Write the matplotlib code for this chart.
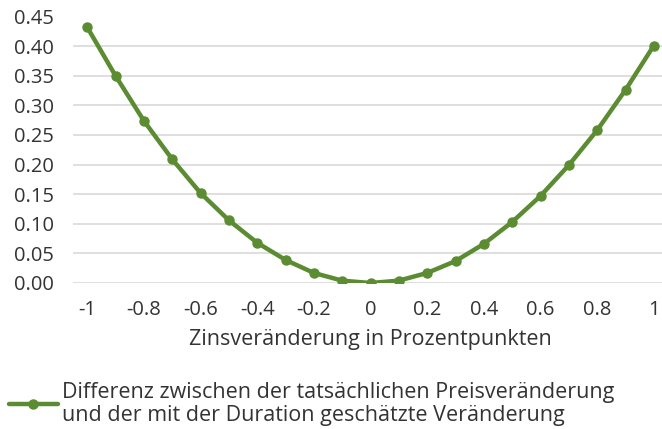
import matplotlib
matplotlib.use('Agg')
import matplotlib.pyplot as plt

plt.rcParams['font.family'] = ['Open Sans', 'DejaVu Sans']

# Zinsveränderung in Prozentpunkten
zins = [-1.0, -0.9, -0.8, -0.7, -0.6, -0.5, -0.4, -0.3, -0.2, -0.1, 0.0,
        0.1, 0.2, 0.3, 0.4, 0.5, 0.6, 0.7, 0.8, 0.9, 1.0]
# Differenz tatsächliche vs. geschätzte Preisveränderung
differenz = [0.432, 0.350, 0.274, 0.209, 0.152, 0.106, 0.068, 0.039, 0.017, 0.004, 0.000,
             0.004, 0.017, 0.037, 0.066, 0.103, 0.147, 0.199, 0.258, 0.326, 0.401]
xticks = [-1, -0.8, -0.6, -0.4, -0.2, 0, 0.2, 0.4, 0.6, 0.8, 1]
xticklabels = ['-1', '-0.8', '-0.6', '-0.4', '-0.2', '0', '0.2', '0.4', '0.6', '0.8', '1']
yticks = [0.00, 0.05, 0.10, 0.15, 0.20, 0.25, 0.30, 0.35, 0.40, 0.45]

green = '#5b8c32'
textcol = '#333333'

fig = plt.figure(figsize=(6.62, 4.29), dpi=100)
ax = fig.add_axes([73 / 662, 1 - 283 / 429, 595 / 662, (283 - 16.5) / 429])

line, = ax.plot(zins, differenz, color=green, linewidth=3.2, marker='o',
                markersize=6.5, solid_capstyle='round',
                label='Differenz zwischen der tatsächlichen Preisveränderung\nund der mit der Duration geschätzte Veränderung')

ax.set_xlim(-1.05, 1.05)
ax.set_ylim(0, 0.45)
ax.set_yticks(yticks)
ax.set_yticklabels([f'{v:.2f}' for v in yticks])
ax.set_xticks(xticks)
ax.set_xticklabels(xticklabels)
ax.grid(axis='y', color='#d9d9d9', linewidth=1.2)
ax.set_axisbelow(True)
for s in ax.spines.values():
    s.set_visible(False)
ax.tick_params(length=0, labelsize=14.5, colors=textcol)
ax.tick_params(axis='x', pad=12)
ax.tick_params(axis='y', pad=14)
ax.set_xlabel('Zinsveränderung in Prozentpunkten', fontsize=15.5, color=textcol)
ax.xaxis.set_label_coords((370 - 73) / 595, -(329 - 283) / (283 - 16.5))

fig.legend(handles=[line], loc='upper left', bbox_to_anchor=(0.0, 1 - 373 / 429),
           frameon=False, fontsize=15.5, handlelength=2.3, handletextpad=0.2,
           borderaxespad=0, labelcolor=textcol)
plt.setp(fig.legends[0].get_texts(), linespacing=1.15)

fig.savefig('out.png', dpi=100)
